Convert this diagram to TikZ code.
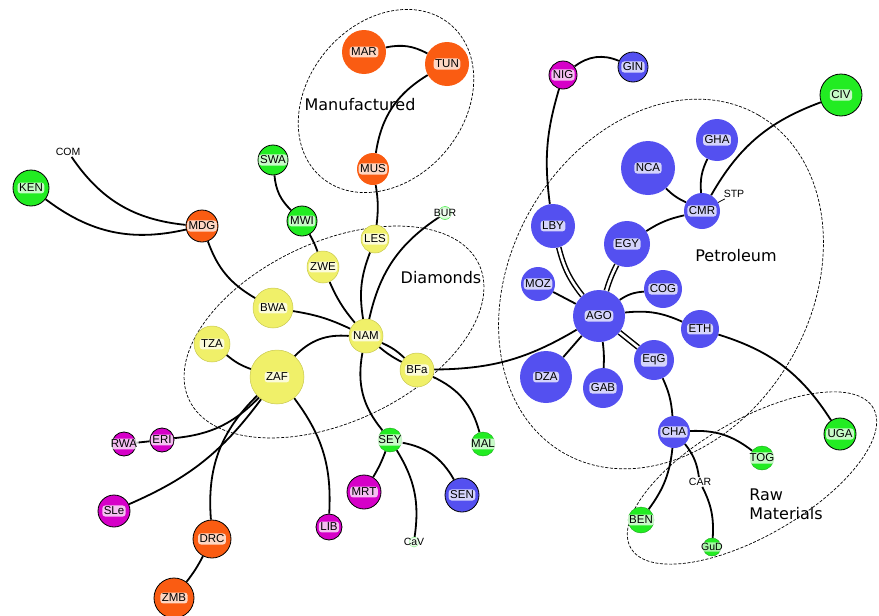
\documentclass[tikz,border=0pt]{standalone}
\usepackage{fontspec}
\setmainfont{Liberation Sans}
\newfontfamily\clusterfont{DejaVu Sans}
\usetikzlibrary{backgrounds}

\definecolor{cgreen}{RGB}{34,236,34}
\definecolor{corange}{RGB}{250,92,18}
\definecolor{cyellow}{RGB}{240,240,105}
\definecolor{cyedge}{RGB}{200,200,80}
\definecolor{cmag}{RGB}{214,0,200}
\definecolor{cblue}{RGB}{84,80,240}
\definecolor{cpale}{RGB}{210,250,210}

\tikzset{
  country/.style={circle, inner sep=0pt, minimum size=#1pt},
  gnode/.style={country=#1, fill=cgreen, draw=black, line width=0.8pt},
  gsmall/.style={country=#1, fill=cgreen, draw=cgreen!70!black, line width=0.4pt},
  onode/.style={country=#1, fill=corange, draw=black, line width=0.8pt},
  onb/.style={country=#1, fill=corange},
  ynode/.style={country=#1, fill=cyellow, draw=cyedge, line width=0.5pt},
  mnode/.style={country=#1, fill=cmag, draw=black, line width=0.8pt},
  bnode/.style={country=#1, fill=cblue},
  bnb/.style={country=#1, fill=cblue, draw=black, line width=0.8pt},
  pnode/.style={country=#1, fill=cpale, draw=cgreen, line width=0.4pt},
  lab/.style={fill=white, fill opacity=0.75, text opacity=1, rounded corners=3pt,
              inner sep=1.5pt, font=\fontsize{11.5}{12}\selectfont},
  slab/.style={fill=white, fill opacity=0.6, text opacity=1, rounded corners=3pt,
              inner sep=0.8pt, font=\fontsize{10.5}{11}\selectfont},
  txt/.style={inner sep=1pt, font=\fontsize{10.5}{11}\selectfont},
  link/.style={line width=1.8pt},
  dlink/.style={line width=1.5pt, double=white, double distance=2.6pt},
  group/.style={line width=0.7pt, dash pattern=on 3pt off 1.6pt},
  cluster/.style={font=\clusterfont\fontsize{16}{19}\selectfont, align=left, inner sep=0pt},
}

\begin{document}
\begin{tikzpicture}[x=1pt, y=-1pt]
\useasboundingbox (0,0) rectangle (879,616);

% ---- nodes ----
\node[gnode=36, label={[lab]center:KEN}] (KEN) at (31,188) {};
\node[txt] (COM) at (68,152) {COM};
\node[onode=32, label={[lab]center:MDG}] (MDG) at (202,226) {};
\node[onb=44, label={[lab]center:MAR}] (MAR) at (364,52) {};
\node[onb=44, label={[lab]center:TUN}] (TUN) at (447,64) {};
\node[onb=32, label={[lab]center:MUS}] (MUS) at (373,169) {};
\node[gnode=30, label={[lab]center:SWA}] (SWA) at (273,160) {};
\node[gnode=30, label={[lab]center:MWI}] (MWI) at (302,221) {};
\node[ynode=28, label={[lab]center:LES}] (LES) at (375,239) {};
\node[pnode=13, label={[slab]center:BUR}] (BUR) at (445,213) {};
\node[ynode=32, label={[lab]center:ZWE}] (ZWE) at (323,267) {};
\node[ynode=40, label={[lab]center:BWA}] (BWA) at (273,308) {};
\node[ynode=36, label={[lab]center:TZA}] (TZA) at (212,344) {};
\node[ynode=54, label={[lab]center:ZAF}] (ZAF) at (277,377) {};
\node[ynode=34, label={[lab]center:NAM}] (NAM) at (366,336) {};
\node[ynode=34, label={[lab]center:BFa}] (BFa) at (417,370) {};
\node[gsmall=24, label={[lab]center:SEY}] (SEY) at (390,440) {};
\node[gsmall=24, label={[lab]center:MAL}] (MAL) at (483,444) {};
\node[mnode=34, label={[lab]center:MRT}] (MRT) at (364,492) {};
\node[bnb=34, label={[lab]center:SEN}] (SEN) at (462,495) {};
\node[pnode=10, label={[slab]center:CaV}] (CaV) at (414,542) {};
\node[mnode=24, label={[lab]center:RWA}] (RWA) at (124,444) {};
\node[mnode=24, label={[lab]center:ERI}] (ERI) at (162,440) {};
\node[mnode=32, label={[lab]center:SLe}] (SLe) at (114,511) {};
\node[mnode=26, label={[lab]center:LIB}] (LIB) at (329,527) {};
\node[onode=38, label={[lab]center:DRC}] (DRC) at (212,539) {};
\node[onode=40, label={[lab]center:ZMB}] (ZMB) at (174,598) {};

\node[mnode=28, label={[lab]center:NIG}] (NIG) at (563,75) {};
\node[bnb=30, label={[lab]center:GIN}] (GIN) at (633,67) {};
\node[bnode=44, label={[lab]center:LBY}] (LBY) at (553,226) {};
\node[bnode=54, label={[lab]center:NCA}] (NCA) at (648,168) {};
\node[bnode=42, label={[lab]center:GHA}] (GHA) at (717,140) {};
\node[bnode=36, label={[lab]center:CMR}] (CMR) at (702,211) {};
\node[txt] (STP) at (734,194) {STP};
\node[gnode=42, label={[lab]center:CIV}] (CIV) at (841,95) {};
\node[bnode=46, label={[lab]center:EGY}] (EGY) at (627,244) {};
\node[bnode=34, label={[lab]center:MOZ}] (MOZ) at (538,284) {};
\node[bnode=38, label={[lab]center:COG}] (COG) at (663,289) {};
\node[bnode=52, label={[lab]center:AGO}] (AGO) at (599,316) {};
\node[bnode=38, label={[lab]center:ETH}] (ETH) at (700,329) {};
\node[bnode=52, label={[lab]center:DZA}] (DZA) at (546,377) {};
\node[bnode=40, label={[lab]center:GAB}] (GAB) at (603,388) {};
\node[bnode=40, label={[lab]center:EqG}] (EqG) at (654,360) {};
\node[bnode=32, label={[lab]center:CHA}] (CHA) at (674,432) {};
\node[gnode=32, label={[lab]center:UGA}] (UGA) at (840,434) {};
\node[gsmall=24, label={[lab]center:TOG}] (TOG) at (762,458) {};
\node[txt] (CAR) at (700,482) {CAR};
\node[gsmall=26, label={[lab]center:BEN}] (BEN) at (641,520) {};
\node[gsmall=18, label={[slab]center:GuD}] (GuD) at (712,547) {};

% ---- cluster labels ----
\node[cluster] (lManu) at (360,105) {Manufactured};
\node[cluster] (lDiam) at (441,278) {Diamonds};
\node[cluster] (lPetr) at (736,256) {Petroleum};
\node[cluster] (lRaw) at (786,504) {Raw\\Materials};

\begin{scope}[on background layer]
% ---- groups ----
\draw[group, shift={(386,101)}, rotate=50] (0,0) ellipse [x radius=100pt, y radius=78pt];
\draw[group, shift={(334,332)}, rotate=25] (0,0) ellipse [x radius=160pt, y radius=90pt];
\draw[group, shift={(661,284)}, rotate=60] (0,0) ellipse [x radius=195pt, y radius=150pt];
\draw[group, shift={(752,478)}, rotate=30] (0,0) ellipse [x radius=140pt, y radius=58pt];

% ---- links ----
\draw[link] (KEN) to[bend right=25] (MDG);
\draw[link] (COM) to[bend right=25] (MDG);
\draw[link] (MDG) to[bend right=20] (BWA);
\draw[link] (SWA) to[bend right=20] (MWI);
\draw[link] (MWI) to[bend left=5] (ZWE);
\draw[link] (MUS) to[bend left=25] (TUN);
\draw[link] (MAR) to[bend left=20] (TUN);
\draw[link] (MUS) to[bend left=8] (LES);
\draw[link] (LES) to[bend right=15] (NAM);
\draw[link] (BUR) to[bend right=22] (NAM);
\draw[link] (ZWE) to[bend right=8] (NAM);
\draw[link] (BWA) to[bend left=8] (NAM);
\draw[link] (TZA) to[bend right=10] (ZAF);
\draw[link] (ZAF) to[bend left=25] (NAM);
\draw[link] (NAM) to[bend left=10] (BFa);
\draw[link] (NAM) to[bend right=6] (BFa);
\draw[link] (BFa) to[bend right=15] (AGO);
\draw[link] (BFa) to[bend left=25] (MAL);
\draw[link] (NAM) to[bend right=25] (SEY);
\draw[link] (SEY) to[bend left=5] (MRT);
\draw[link] (SEY) to[bend left=20] (CaV);
\draw[link] (SEY) to[bend left=25] (SEN);
\draw[link] (ZAF) to[bend left=20] (ERI);
\draw[link] (ERI) -- (RWA);
\draw[link] (ZAF) to[bend left=15] (SLe);
\draw[link] (ZAF) to[bend right=25] (DRC);
\draw[link] (DRC) to[bend left=5] (ZMB);
\draw[link] (ZAF) to[bend left=20] (LIB);

\draw[link] (NIG) to[bend left=30] (GIN);
\draw[link] (NIG) to[bend right=12] (LBY);
\draw[dlink] (LBY) to[bend right=12] (AGO);
\draw[dlink] (EGY) to[bend right=5] (AGO);
\draw[link] (EGY) to[bend left=10] (CMR);
\draw[link] (NCA) to[bend right=10] (CMR);
\draw[link] (GHA) to[bend right=15] (CMR);
\draw[link] (CMR) to[bend left=20] (CIV);
\draw[line width=0.8pt] (CMR) -- (STP);
\draw[link] (MOZ) -- (AGO);
\draw[link] (COG) to[bend right=15] (AGO);
\draw[link] (AGO) to[bend left=15] (ETH);
\draw[link] (ETH) to[bend left=20] (UGA);
\draw[link] (AGO) -- (DZA);
\draw[link] (AGO) to[bend left=5] (GAB);
\draw[dlink] (AGO) -- (EqG);
\draw[link] (EqG) to[bend left=10] (CHA);
\draw[link] (CHA) to[bend left=20] (TOG);
\draw[link] (CHA) to[bend left=15] (BEN);
\draw[link] (CHA) to[bend left=15] (CAR);
\draw[link] (CAR) to[bend left=15] (GuD);
\end{scope}
\end{tikzpicture}
\end{document}
